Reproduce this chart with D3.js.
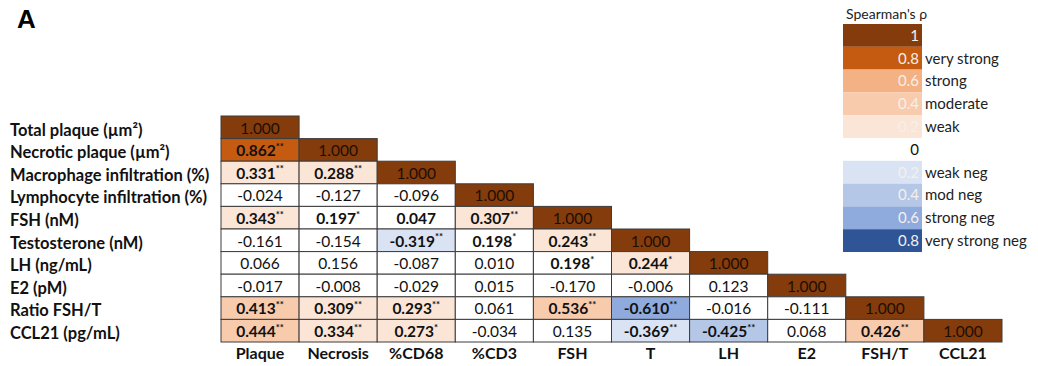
<!DOCTYPE html>
<html>
<head>
<meta charset="utf-8">
<script src="https://cdn.jsdelivr.net/npm/d3@7"></script>
<style>
  html, body { margin: 0; padding: 0; background: #fff; }
  svg { display: block; }
  text { font-family: Lato, "Open Sans", "DejaVu Sans", sans-serif; }
</style>
</head>
<body>
<svg id="chart" width="1038" height="366"></svg>
<script>
// Variables in the correlation matrix (rows) and their short column names
const rowLabels = [
  "Total plaque (\u00b5m\u00b2)",
  "Necrotic plaque (\u00b5m\u00b2)",
  "Macrophage infiltration (%)",
  "Lymphocyte infiltration (%)",
  "FSH (nM)",
  "Testosterone (nM)",
  "LH (ng/mL)",
  "E2 (pM)",
  "Ratio FSH/T",
  "CCL21 (pg/mL)"
];
const colLabels = ["Plaque", "Necrosis", "%CD68", "%CD3", "FSH", "T", "LH", "E2", "FSH/T", "CCL21"];

// Lower triangle of Spearman's rho, one row per variable
const rho = [
  [1.000],
  [0.862, 1.000],
  [0.331, 0.288, 1.000],
  [-0.024, -0.127, -0.096, 1.000],
  [0.343, 0.197, 0.047, 0.307, 1.000],
  [-0.161, -0.154, -0.319, 0.198, 0.243, 1.000],
  [0.066, 0.156, -0.087, 0.010, 0.198, 0.244, 1.000],
  [-0.017, -0.008, -0.029, 0.015, -0.170, -0.006, 0.123, 1.000],
  [0.413, 0.309, 0.293, 0.061, 0.536, -0.610, -0.016, -0.111, 1.000],
  [0.444, 0.334, 0.273, -0.034, 0.135, -0.369, -0.425, 0.068, 0.426, 1.000]
];

// Significance marks: "*" p<0.05, "**" p<0.01, "b" bold without a mark, "" plain
const sig = [
  [""],
  ["**", ""],
  ["**", "**", ""],
  ["", "", "", ""],
  ["**", "*", "b", "**", ""],
  ["", "", "**", "*", "**", ""],
  ["", "", "", "", "*", "*", ""],
  ["", "", "", "", "", "", "", ""],
  ["**", "**", "**", "", "**", "**", "", "", ""],
  ["**", "**", "*", "", "", "**", "**", "", "**", ""]
];

// Colour key
const legendValues = [1, 0.8, 0.6, 0.4, 0.2, 0, -0.2, -0.4, -0.6, -0.8];
const legendNames = ["", "very strong", "strong", "moderate", "weak", "", "weak neg", "mod neg", "strong neg", "very strong neg"];

const posColor = d3.scaleThreshold()
  .domain([0.2, 0.4, 0.6, 0.8, 1.0])
  .range(["#ffffff", "#fbe5d6", "#f8cbad", "#f4b183", "#c55a11", "#843c0c"]);
const negColor = d3.scaleThreshold()
  .domain([0.2, 0.4, 0.6, 0.8])
  .range(["#ffffff", "#dae3f3", "#b4c7e7", "#8faadc", "#2f5597"]);
const fill = v => v >= 0 ? posColor(v) : negColor(-v);

// Numbers printed with a plain hyphen as the minus sign
const fmt = d3.formatLocale({ decimal: ".", thousands: ",", grouping: [3], currency: ["", ""], minus: "-" }).format(".3f");

const svg = d3.select("#chart");

// Panel letter
svg.append("text")
  .attr("x", 17).attr("y", 28)
  .attr("font-weight", "bold").attr("font-size", 26)
  .style("font-family", "'Liberation Sans', Arial, sans-serif")
  .text("A");

// Table scales
const x = d3.scaleBand().domain(d3.range(colLabels.length)).range([221, 1002]);
const y = d3.scaleBand().domain(d3.range(rowLabels.length)).range([116, 342]);

const cells = [];
rho.forEach((row, i) => row.forEach((v, j) => cells.push({ i, j, v, s: sig[i][j] })));

const g = svg.append("g");
const cell = g.selectAll("g.cell").data(cells).join("g").attr("class", "cell");

cell.append("rect")
  .attr("x", d => x(d.j))
  .attr("y", d => y(d.i))
  .attr("width", x.bandwidth())
  .attr("height", y.bandwidth())
  .attr("fill", d => fill(d.v))
  .attr("stroke", "#3c3c3c")
  .attr("stroke-width", 1);

const val = cell.append("text")
  .attr("x", d => x(d.j) + x.bandwidth() / 2)
  .attr("y", d => y(d.i) + y.bandwidth() - 5)
  .attr("text-anchor", "middle")
  .attr("font-size", 15.5)
  .attr("font-weight", d => d.s ? "bold" : "normal")
  .attr("fill", d => d.i === d.j ? "#1e0e02" : "#111");
val.append("tspan").text(d => fmt(d.v));
val.append("tspan")
  .attr("font-size", 9.5)
  .attr("dy", -6.5)
  .text(d => d.s.replace("b", ""));

// Row labels
svg.append("g").selectAll("text").data(rowLabels).join("text")
  .attr("x", 10)
  .attr("y", (d, i) => y(i) + y.bandwidth() - 3)
  .attr("font-size", 16.5)
  .attr("font-weight", "bold")
  .attr("fill", "#111")
  .text(d => d);

// Column labels
svg.append("g").selectAll("text").data(colLabels).join("text")
  .attr("x", (d, i) => x(i) + x.bandwidth() / 2)
  .attr("y", 359)
  .attr("text-anchor", "middle")
  .attr("font-size", 16)
  .attr("font-weight", "bold")
  .attr("fill", "#111")
  .text(d => d);

// Legend
const ly = d3.scaleBand().domain(d3.range(legendValues.length)).range([24, 252]);
const lg = svg.append("g");
lg.append("text")
  .attr("x", 846).attr("y", 19)
  .attr("font-size", 14)
  .attr("fill", "#222")
  .text("Spearman's \u03c1");

const item = lg.selectAll("g.item").data(legendValues).join("g").attr("class", "item");
item.append("rect")
  .attr("x", 843)
  .attr("y", (d, i) => ly(i))
  .attr("width", 79)
  .attr("height", ly.bandwidth())
  .attr("fill", d => fill(d));
item.append("text")
  .attr("x", 919)
  .attr("y", (d, i) => ly(i) + ly.bandwidth() - 6)
  .attr("text-anchor", "end")
  .attr("font-size", 15)
  .attr("fill", d => d === 0 ? "#111" : "#f4f0ec")
  .text(d => String(Math.abs(d)));
item.append("text")
  .attr("x", 925)
  .attr("y", (d, i) => ly(i) + ly.bandwidth() - 6)
  .attr("font-size", 15)
  .attr("fill", "#222")
  .text((d, i) => legendNames[i]);
</script>
</body>
</html>
